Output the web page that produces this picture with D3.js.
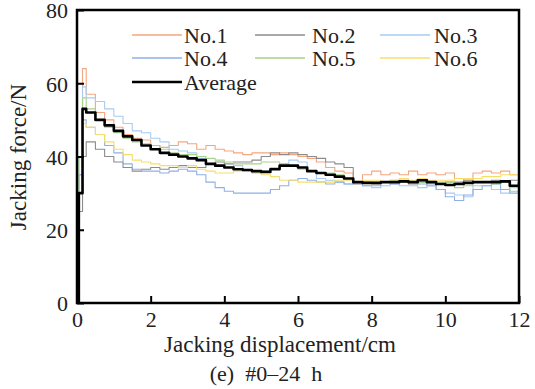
<!DOCTYPE html>
<html>
<head>
<meta charset="utf-8">
<script src="https://cdn.jsdelivr.net/npm/d3@7"></script>
</head>
<body style="margin:0">
<svg id="chart" width="535" height="389" style="font-family: 'Liberation Serif', serif"></svg>
<script>
// displacement (cm) sample points shared by all curves
const disp = [0, 0.05, 0.15, 0.25, 0.5, 0.75, 1, 1.25, 1.5, 1.75, 2, 2.25, 2.5, 2.75, 3, 3.25, 3.5, 3.75,
  4, 4.25, 4.5, 4.75, 5, 5.25, 5.5, 5.75, 6, 6.25, 6.5, 6.75, 7, 7.25, 7.5, 7.75, 8, 8.25, 8.5, 8.75,
  9, 9.25, 9.5, 9.75, 10, 10.25, 10.5, 10.75, 11, 11.25, 11.5, 11.75, 12];

const no1 = [0, 35, 64, 57, 52, 50, 48, 46, 45, 44.5, 43, 42.5, 43, 44, 43.5, 42, 43, 42, 41.5, 41, 40.5, 41,
  41, 40.5, 41, 40.5, 40, 39.5, 38.5, 37, 36, 35.5, 33, 35, 36, 35, 35.5, 35, 36, 35, 35.5, 35, 35.5, 34,
  33.5, 35.5, 36, 35.5, 36, 35, 34.5];
const no2 = [0, 25, 40, 44, 42, 40, 38.5, 37, 36, 36.5, 37, 36.5, 37, 37.5, 37, 37, 38, 38.5, 38, 38.5, 38.5,
  39, 40, 41, 40.5, 41, 40.5, 40, 39.5, 38.5, 38, 37, 32.5, 33, 32.5, 33, 33, 33.5, 32.5, 33, 32, 32.5, 33,
  33, 33.5, 33, 33, 33.5, 33, 33.5, 34];
const no3 = [0, 40, 59, 56, 55, 53, 51, 49, 47, 46.5, 45, 44, 42, 41.5, 41, 39.5, 38, 37.5, 37, 37.5, 36.5,
  35.5, 36, 37, 38, 39, 38.5, 36, 34, 33.5, 33, 32.5, 33, 32, 31.5, 32, 32.5, 32, 32, 31.5, 32, 31, 30,
  29.5, 29, 32, 32, 31, 30, 31.5, 28];
const no4 = [0, 35, 50, 48, 46, 43, 41, 38, 36.5, 36, 36, 35.5, 36, 36.5, 36, 35, 33, 31.5, 30.5, 30, 30, 30,
  30, 31, 32, 33.5, 34, 33.5, 33, 32.5, 33, 32.5, 33, 32, 32, 33, 32.5, 33, 33, 32.5, 32.5, 31, 29, 28,
  29.5, 31, 32, 32.5, 31, 30, 31];
const no5 = [0, 40, 56, 53, 50, 48, 46.5, 45, 44, 43.5, 43, 42, 41, 40.5, 40.5, 40, 39.5, 39, 38.5, 38, 38,
  38, 38.5, 38.5, 38, 37.5, 36.5, 36, 35.5, 35.5, 35, 34, 33, 33, 33, 33, 33.5, 33, 33, 33, 33, 33, 33,
  31.5, 32, 33, 33, 32.5, 33, 30.5, 32];
const no6 = [0, 30, 49, 48, 46, 44, 42, 40.5, 39, 38.5, 38, 37.5, 37.5, 37, 37.5, 36.5, 36, 35.5, 35.5, 36,
  36, 35.5, 35, 34.5, 33.5, 33.5, 33, 33, 33, 33, 33.5, 33.5, 33, 33.5, 33.5, 33, 33.5, 34, 33.5, 34, 33.5,
  33.5, 33.5, 34, 34, 34, 34.5, 34.5, 35, 35, 35];
const avg = [0, 30, 53, 52, 50, 48.5, 47, 45.5, 44.5, 43, 42, 41, 40.5, 40, 39.5, 39, 38, 37.5, 37, 36.5,
  36.3, 36, 35.8, 36.5, 37.5, 37.5, 37, 36, 35.5, 35, 34.5, 34, 33, 32.8, 32.8, 33, 33, 33.2, 33, 33.5, 33,
  32.5, 32.2, 32.5, 32.8, 33, 33, 33, 33.2, 32, 33];

const seriesNames = ["No.1", "No.2", "No.3", "No.4", "No.5", "No.6", "Average"];
const seriesValues = [no1, no2, no3, no4, no5, no6, avg];
const seriesColors = ["#f5a57f", "#8c8c8c", "#a8ccf4", "#8fb0e6", "#a9d18e", "#f7de6a", "#000000"];

const xTicks = [0, 2, 4, 6, 8, 10, 12];
const yTicks = [0, 20, 40, 60, 80];

const plot = {left: 77, right: 519, top: 10, bottom: 303};
const serif = "'Liberation Serif', serif";

const svg = d3.select('#chart');

const x = d3.scaleLinear().domain([0, 12]).range([plot.left, plot.right]);
const y = d3.scaleLinear().domain([0, 80]).range([plot.bottom, plot.top]);

svg.append('clipPath').attr('id', 'plotClip')
  .append('rect')
  .attr('x', plot.left).attr('y', plot.top)
  .attr('width', plot.right - plot.left).attr('height', plot.bottom - plot.top);

// curves
const line = d3.line()
  .x((d, i) => x(disp[i]))
  .y(d => y(d))
  .curve(d3.curveStepAfter);

const curves = svg.append('g').attr('clip-path', 'url(#plotClip)');
seriesValues.forEach((vals, k) => {
  curves.append('path')
    .datum(vals)
    .attr('d', line)
    .attr('fill', 'none')
    .attr('stroke', seriesColors[k])
    .attr('stroke-width', k === 6 ? 2.6 : 1.1)
    .attr('stroke-linejoin', 'round');
});

// frame
svg.append('rect')
  .attr('x', plot.left).attr('y', plot.top)
  .attr('width', plot.right - plot.left).attr('height', plot.bottom - plot.top)
  .attr('fill', 'none')
  .attr('stroke', '#000')
  .attr('stroke-width', 2.5);

// axes with inward ticks
const xAxis = svg.append('g')
  .attr('transform', 'translate(0,' + plot.bottom + ')')
  .call(d3.axisBottom(x).tickValues(xTicks).tickSize(-7).tickPadding(14).tickFormat(d3.format('d')));
const yAxis = svg.append('g')
  .attr('transform', 'translate(' + plot.left + ',0)')
  .call(d3.axisLeft(y).tickValues(yTicks).tickSize(-7).tickPadding(14).tickFormat(d3.format('d')));

[xAxis, yAxis].forEach(g => {
  g.attr('font-family', serif).attr('font-size', 22);
  g.select('.domain').remove();
  g.selectAll('line').attr('stroke', '#000').attr('stroke-width', 2);
  g.selectAll('text')
    .attr('fill', '#222')
    .style('font-family', serif);
});
xAxis.selectAll('text').attr('dy', '0.71em').attr('y', 8);
yAxis.selectAll('text').attr('x', -9).attr('dy', '0.36em');

function label(txt, size) {
  return svg.append('text')
    .attr('font-size', size)
    .attr('fill', '#222')
    .style('font-family', serif)
    .text(txt);
}

// axis titles
label('Jacking displacement/cm', 23)
  .attr('x', 280).attr('y', 352)
  .attr('text-anchor', 'middle');

label('Jacking force/N', 23)
  .attr('transform', 'rotate(-90)')
  .attr('x', -157).attr('y', 26)
  .attr('text-anchor', 'middle');

label('(e)\u2002#0\u201324\u2002h', 22)
  .attr('x', 266).attr('y', 381)
  .attr('text-anchor', 'middle');

// legend
const legX = [132, 255, 380];
const legTextX = [184, 312, 434];
const legY = [35, 58, 82];
seriesNames.forEach((name, k) => {
  const col = k % 3, row = Math.floor(k / 3);
  svg.append('line')
    .attr('x1', legX[col]).attr('x2', legX[col] + 50)
    .attr('y1', legY[row]).attr('y2', legY[row])
    .attr('stroke', seriesColors[k])
    .attr('stroke-width', k === 6 ? 2.6 : 1.4);
  label(name, 22)
    .attr('x', legTextX[col]).attr('y', legY[row] + 7.5);
});
</script>
</body>
</html>
